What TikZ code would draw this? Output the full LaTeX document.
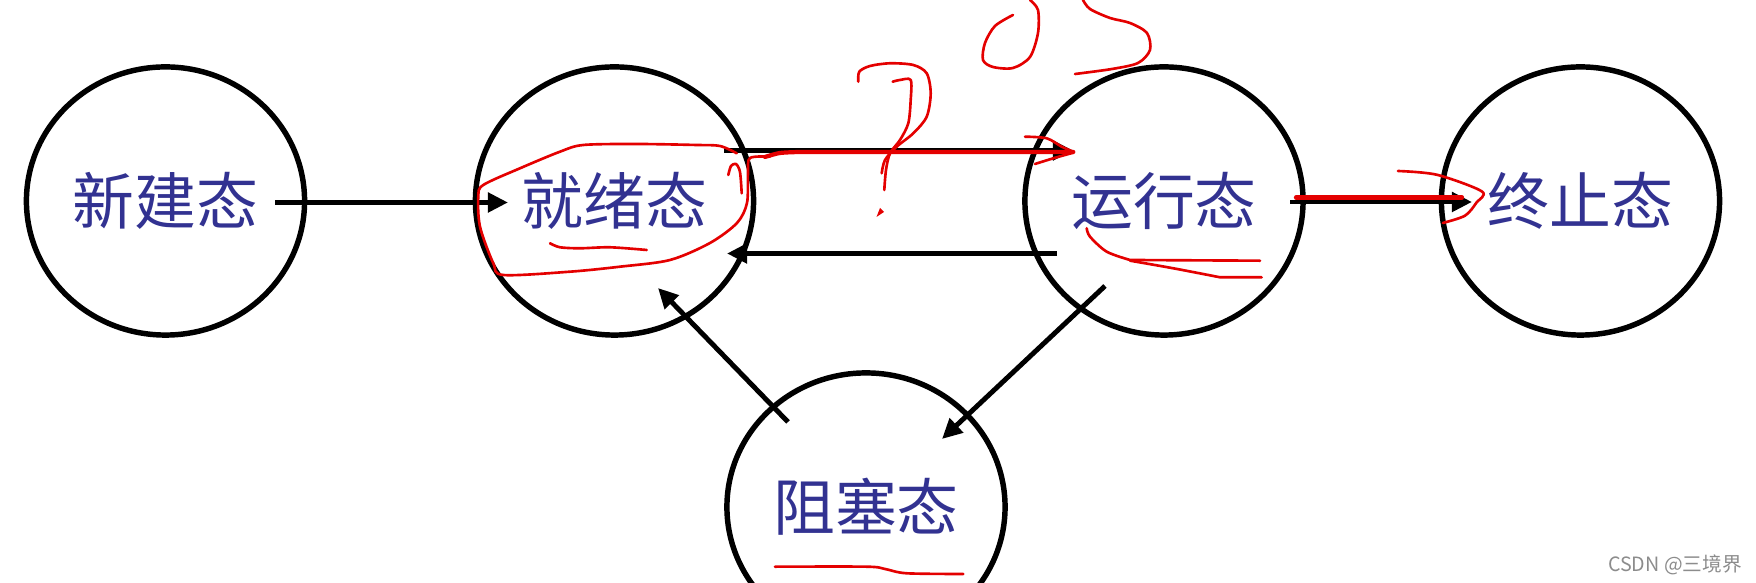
\documentclass[tikz,border=0pt]{standalone}
\usepackage{fontspec}
\newfontfamily\cjk{Noto Sans CJK SC}
\usetikzlibrary{shapes.geometric,arrows.meta}
\definecolor{stateblue}{RGB}{50,50,145}
\definecolor{penred}{RGB}{228,0,0}
\begin{document}
\begin{tikzpicture}[x=0.01cm,y=-0.01cm,
  state/.style={ellipse, draw=black, line width=1.55pt, minimum width=2.78cm,
    minimum height=2.68cm, inner sep=0pt, text=stateblue,
    font=\cjk\fontsize{17.6}{20}\selectfont},
  flow/.style={line width=1.4pt, -{Triangle[length=0.2cm,width=0.19cm]}},
  pen/.style={draw=penred, line width=0.75pt, line cap=round, line join=round},
  penthick/.style={pen, line width=1.2pt}]
\useasboundingbox (0,0) rectangle (1756,583);
\clip (0,0) rectangle (1756,583);

% states
\node[state] (new)   at (165.5,201) {新建态};
\node[state] (ready) at (614.5,201) {就绪态};
\node[state] (run)   at (1164,201)  {运行态};
\node[state] (done)  at (1580.5,201) {终止态};
\node[state] (block) at (866,507)   {阻塞态};

% connector ends
\coordinate (newOut)   at (275,202.5);
\coordinate (readyIn)  at (508,202.5);
\coordinate (readyOut) at (724,150.5);
\coordinate (runIn)    at (1073,150.5);
\coordinate (runOut)   at (1057,253.5);
\coordinate (readyIn2) at (727,253.5);
\coordinate (blockOut) at (788,422);
\coordinate (readyIn3) at (658,288);
\coordinate (runOut2)  at (1105,286);
\coordinate (blockIn)  at (942,439);
\coordinate (runOut3)  at (1290,202);
\coordinate (doneIn)   at (1472,202);

\draw[flow] (newOut) -- (readyIn);
\draw[flow] (readyOut) -- (runIn);
\draw[flow] (runOut) -- (readyIn2);
\draw[flow] (blockOut) -- (readyIn3);
\draw[flow] (runOut2) -- (blockIn);
\draw[flow] (runOut3) -- (doneIn);

% red pen annotations
% loop around 就绪态
\draw[pen] plot[smooth, tension=0.5] coordinates {(736.7,153.3) (720,146) (696.7,145) (636.7,144) (583.3,145) (560,151.7) (520,168.3) (483.3,185) (478.3,196.7) (480,226.7) (493.3,263.3) (503.3,275) (570,271.7) (620,266.7) (670,260) (710,243) (737,223) (747,203) (748,173) (750,158) (770,156.7)};
\draw[pen] plot[smooth] coordinates {(741.7,193.3) (740,172) (736,164) (731,166) (728.3,175)};
% underline 绪
\draw[pen] plot[smooth] coordinates {(550,243.3) (560,247.3) (580,248.3) (610,247.3) (646.7,250)};
% red arrow over ready -> run
\draw[penthick] plot[smooth] coordinates {(765,157) (780,153) (800,152)} -- (1073.3,152);
\draw[pen] plot[smooth] coordinates {(1025,136.7) (1046.7,138.3) (1061.7,146.7) (1073.3,151.7)};
\draw[pen] plot[smooth] coordinates {(1035,164) (1053.3,158.3) (1073.3,152.7)};
% question mark
\draw[pen] plot[smooth] coordinates {(858.3,81.7) (859.3,71.7) (870,66) (890,63.3) (913.3,65) (926.7,73.3) (930.7,93.3) (926.7,116.7) (913.3,133.3) (896.7,146.7) (885,160) (881.7,173.3)};
\draw[pen] plot[smooth] coordinates {(892.7,81.7) (900,80) (910.7,80) (910.7,100) (908.3,123.3) (900,140) (890,153.3) (886,170) (884.3,190)};
\fill[penred] (876.5,217) -- (880,208) -- (884,212) -- cycle;
% O
\draw[pen] plot[smooth] coordinates {(1013,15) (995,26) (985,43) (983,60) (993,67) (1013,68) (1030,57) (1038,33) (1038,10) (1030,0)};
% S
\draw[pen] plot[smooth] coordinates {(1083,0) (1090,9) (1110,18) (1130,23) (1147,33) (1150,50) (1138,63) (1112,69) (1075,74)};
% underline 运行态
\draw[pen] plot[smooth] coordinates {(1086.7,228.3) (1090,236.7) (1106.7,251.7) (1130,260)} -- (1260,260.7);
\draw[pen] plot[smooth] coordinates {(1130,260.7) (1173.3,268.3) (1220,277.3)} -- (1261.7,277.3);
% red arrow run -> done
\draw[penthick] (1296,197.5) -- (1462,197.5);
\draw[pen] plot[smooth] coordinates {(1397.9,171) (1437,174.8) (1482,191.5) (1476.4,202.7) (1465,215.7) (1442.8,223)};
% underline 阻塞态
\draw[pen] plot[smooth] coordinates {(775,566.7) (866.7,566.7) (885,569) (906.7,573.3) (963.3,574)};

% watermark
\node[text=black!45, font=\cjk\fontsize{5.6}{6}\selectfont, inner sep=0pt] (wm) at (1675,565) {CSDN @三境界};
\end{tikzpicture}
\end{document}
